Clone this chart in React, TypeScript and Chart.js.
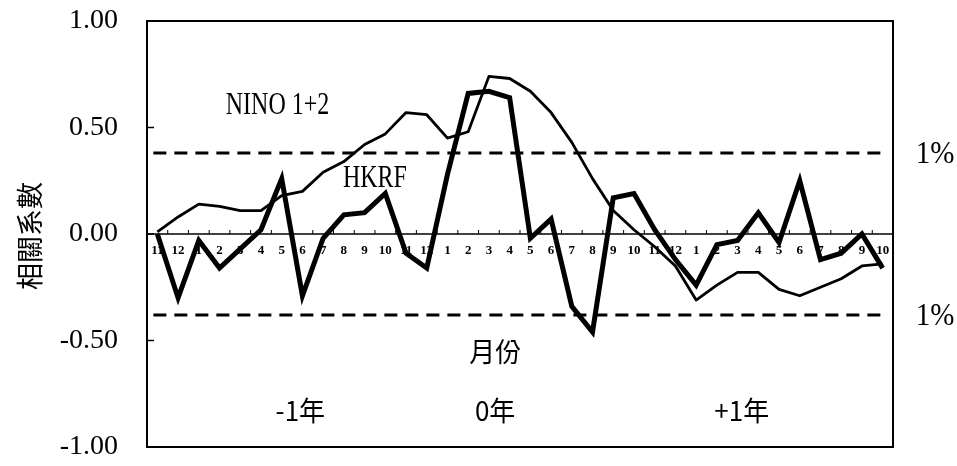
import React, { useEffect, useRef } from "react";
import { Chart, registerables } from "chart.js";
Chart.register(...registerables);

const months = [
  "11", "12",
  "1", "2", "3", "4", "5", "6", "7", "8", "9", "10", "11", "12",
  "1", "2", "3", "4", "5", "6", "7", "8", "9", "10", "11", "12",
  "1", "2", "3", "4", "5", "6", "7", "8", "9", "10",
];
const hkrf = [
  0.0, -0.3,
  -0.03, -0.16, -0.07, 0.02, 0.26, -0.29, -0.02, 0.09, 0.1, 0.19, -0.09, -0.16,
  0.28, 0.66, 0.67, 0.64, -0.02, 0.07, -0.34, -0.46, 0.17, 0.19, 0.02, -0.12,
  -0.24, -0.05, -0.03, 0.1, -0.04, 0.25, -0.12, -0.09, 0.0, -0.16,
];
const nino = [
  0.01, 0.08,
  0.14, 0.13, 0.11, 0.11, 0.18, 0.2, 0.29, 0.34, 0.42, 0.47, 0.57, 0.56,
  0.45, 0.48, 0.74, 0.73, 0.67, 0.57, 0.43, 0.26, 0.11, 0.02, -0.06, -0.15,
  -0.31, -0.24, -0.18, -0.18, -0.26, -0.29, -0.25, -0.21, -0.15, -0.14,
];
const yTickValues = [1, 0.5, 0, -0.5, -1];
const sigLevel = 0.38;
const yTitle = "相關系數";
const xTitle = "月份";
const yearLabels = ["-1年", "0年", "+1年"];
const sigLabel = "1%";

const SERIF = "'Liberation Serif', 'Times New Roman', serif";
const CJK = "'Noto Sans CJK TC', 'Noto Sans CJK SC', sans-serif";

function stretchedText(ctx: CanvasRenderingContext2D, text: string, x: number, y: number, font: string, sy: number) {
  ctx.save();
  ctx.translate(x, y);
  ctx.scale(1, sy);
  ctx.font = font;
  ctx.textAlign = "center";
  ctx.textBaseline = "middle";
  ctx.fillText(text, 0, 0);
  ctx.restore();
}

const decor = {
  id: "decor",
  beforeDatasetsDraw(chart: any) {
    const { ctx, chartArea: a, scales } = chart;
    const xs = scales.x;
    const ys = scales.y;
    ctx.save();
    ctx.strokeStyle = "#000";
    // frame
    ctx.lineWidth = 2;
    ctx.strokeRect(a.left, a.top, a.right - a.left, a.bottom - a.top);
    // zero line
    const y0 = ys.getPixelForValue(0);
    ctx.lineWidth = 1.5;
    ctx.beginPath();
    ctx.moveTo(a.left, y0);
    ctx.lineTo(a.right, y0);
    ctx.stroke();
    // x tick marks at category boundaries
    const step = xs.getPixelForValue(1) - xs.getPixelForValue(0);
    ctx.lineWidth = 1;
    for (let i = 0; i <= months.length; i++) {
      const px = xs.getPixelForValue(0) - step / 2 + i * step;
      ctx.beginPath();
      ctx.moveTo(px, y0);
      ctx.lineTo(px, y0 - 4);
      ctx.stroke();
    }
    // y tick marks
    ctx.lineWidth = 1.5;
    yTickValues.forEach((v) => {
      const py = ys.getPixelForValue(v);
      ctx.beginPath();
      ctx.moveTo(a.left, py);
      ctx.lineTo(a.left + 7, py);
      ctx.stroke();
    });
    // significance dashed lines
    ctx.lineWidth = 3;
    ctx.setLineDash([13, 8]);
    const x1 = xs.getPixelForValue(0) - 4;
    const x2 = xs.getPixelForValue(months.length - 1) - 2;
    [sigLevel, -sigLevel].forEach((v) => {
      const py = ys.getPixelForValue(v);
      ctx.beginPath();
      ctx.moveTo(x1, py);
      ctx.lineTo(x2, py);
      ctx.stroke();
    });
    ctx.restore();
  },
  afterDraw(chart: any) {
    const { ctx, chartArea: a, scales } = chart;
    const xs = scales.x;
    const ys = scales.y;
    ctx.save();
    ctx.fillStyle = "#000";
    // series labels
    stretchedText(ctx, "NINO 1+2", xs.getPixelForValue(5.8), ys.getPixelForValue(0.6), `24px ${SERIF}`, 1.3);
    stretchedText(ctx, "HKRF", xs.getPixelForValue(10.5), ys.getPixelForValue(0.26), `24px ${SERIF}`, 1.3);
    // 1% labels
    [sigLevel, -sigLevel].forEach((v) => {
      stretchedText(ctx, sigLabel, a.right + 42, ys.getPixelForValue(v) + 2, `29px ${SERIF}`, 1.1);
    });
    // x title and years
    stretchedText(ctx, xTitle, xs.getPixelForValue(16.3), ys.getPixelForValue(-0.55), `26px ${CJK}`, 1.05);
    const yearPos = [6.9, 16.3, 28.2];
    yearLabels.forEach((t, i) => {
      stretchedText(ctx, t, xs.getPixelForValue(yearPos[i]), ys.getPixelForValue(-0.83), `26px ${CJK}`, 1.05);
    });
    // y title
    ctx.save();
    ctx.translate(30, (a.top + a.bottom) / 2 + 2);
    ctx.rotate(-Math.PI / 2);
    ctx.font = `27px ${CJK}`;
    ctx.textAlign = "center";
    ctx.textBaseline = "middle";
    ctx.fillText(yTitle, 0, 0);
    ctx.restore();
    ctx.restore();
  },
};

export default function App() {
  const ref = useRef<HTMLCanvasElement>(null);
  useEffect(() => {
    if (!ref.current) return;
    const chart = new Chart(ref.current, {
      type: "line",
      data: {
        labels: months,
        datasets: [
          {
            label: "HKRF",
            data: hkrf,
            borderColor: "#000",
            borderWidth: 5,
            pointRadius: 0,
            tension: 0,
            borderJoinStyle: "miter",
            fill: false,
          },
          {
            label: "NINO 1+2",
            data: nino,
            borderColor: "#000",
            borderWidth: 2.8,
            pointRadius: 0,
            tension: 0,
            borderJoinStyle: "round",
            fill: false,
          },
        ],
      },
      options: {
        animation: false,
        responsive: false,
        maintainAspectRatio: false,
        layout: { padding: { left: 0, right: 64, top: 21, bottom: 19 } },
        plugins: { legend: { display: false }, tooltip: { enabled: false } },
        scales: {
          x: {
            type: "category",
            position: { y: 0 } as any,
            offset: true,
            grid: { display: false, drawTicks: false },
            border: { display: false },
            ticks: {
              autoSkip: false,
              maxRotation: 0,
              minRotation: 0,
              padding: 9,
              color: "#000",
              font: { family: SERIF, size: 13, weight: "bold" },
            },
            afterFit: (s: any) => {
              s.paddingLeft = 0;
              s.paddingRight = 0;
              s.paddingTop = 0;
              s.paddingBottom = 0;
            },
          },
          y: {
            min: -1,
            max: 1,
            afterFit: (s: any) => {
              s.width = 147;
              s.paddingTop = 0;
              s.paddingBottom = 0;
            },
            afterBuildTicks: (s: any) => {
              s.ticks = yTickValues.map((v) => ({ value: v }));
            },
            grid: { display: false, drawTicks: false },
            border: { display: false },
            ticks: {
              padding: 29,
              color: "#000",
              font: { family: SERIF, size: 28 },
              callback: (v: any) => Number(v).toFixed(2),
            },
          },
        },
      },
      plugins: [decor],
    });
    return () => chart.destroy();
  }, []);
  return (
    <div style={{ position: "absolute", left: 0, top: 0, width: 957, height: 466, background: "#fff" }}>
      <canvas ref={ref} width={957} height={466} />
    </div>
  );
}
